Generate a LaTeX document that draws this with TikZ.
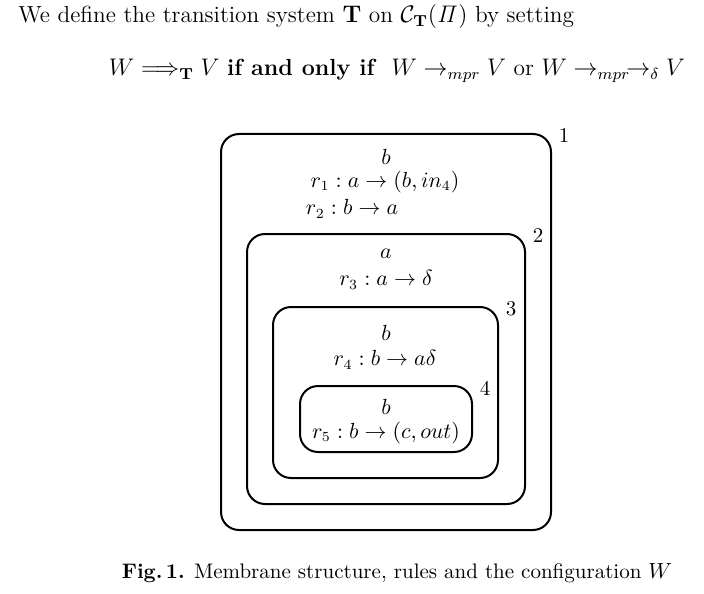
\documentclass[tikz,border=0pt]{standalone}
\usepackage{amsmath,amssymb,bm}
\usetikzlibrary{positioning}

\begin{document}
\begin{tikzpicture}[x=0.5pt,y=-0.5pt,line cap=round,line join=round]
  \tikzset{
    membrane/.style={line width=1pt,rounded corners=9pt},
    mlabel/.style={inner sep=0pt,font=\fontsize{10.5}{12}\selectfont},
    obj/.style={inner sep=0pt,font=\fontsize{10.5}{12}\selectfont},
    txt/.style={inner sep=0pt,font=\fontsize{11.65}{14}\selectfont}
  }
  \useasboundingbox (0,0) rectangle (704,593);

  % the definition above the figure
  \node[txt,anchor=base west] (intro) at (18,23)
    {We define the transition system $\mathbf{T}$ on $\mathcal{C}_{\mathbf{T}}(\mathit{\Pi})$ by setting};
  \node[txt,anchor=base] (defn) at (397,76)
    {$W \Longrightarrow_{\mathbf{T}} V$ \textbf{if and only if} \ $W \rightarrow_{mpr} V$ or $W \rightarrow_{mpr}\!\rightarrow_{\delta} V$};

  \newcommand{\membrane}[4]{
    \draw[membrane] (#2) rectangle (#3);
    \node[mlabel] (#1) at ([shift={(13,2)}]#3 |- #2) {#4};
  }

  % membranes, outermost first
  \membrane{lab1}{221,134}{551,530}{1}
  \membrane{lab2}{247,234}{525,504}{2}
  \membrane{lab3}{273,307}{498,478}{3}
  \membrane{lab4}{300,386}{472,452}{4}

  % objects and rules of each region
  \node[obj] (b1) at (386,157) {$b$};
  \node[obj] (r1) at (385,182) {$r_1 : a \rightarrow (b, in_4)$};
  \node[obj] (r2) at (352,209) {$r_2 : b \rightarrow a$};
  \node[obj] (a2) at (386,254) {$a$};
  \node[obj] (r3) at (386,280) {$r_3 : a \rightarrow \delta$};
  \node[obj] (b3) at (386,333) {$b$};
  \node[obj] (r4) at (385,360) {$r_4 : b \rightarrow a\delta$};
  \node[obj] (b4) at (386,407) {$b$};
  \node[obj] (r5) at (386,433) {$r_5 : b \rightarrow (c, out)$};

  % caption
  \node[txt,anchor=base,font=\fontsize{10.5}{12}\selectfont] (cap) at (397,578)
    {\textbf{Fig.\,1.} Membrane structure, rules and the configuration $W$};
\end{tikzpicture}
\end{document}
